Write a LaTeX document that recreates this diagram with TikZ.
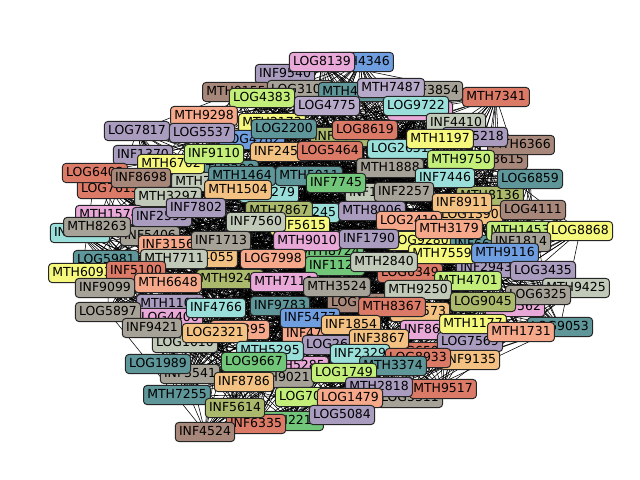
\documentclass[tikz,border=0pt]{standalone}
\usepackage{fontspec}
\usetikzlibrary{backgrounds}
\newfontfamily\lblfont{DejaVu Sans}
\definecolor{cpink}{HTML}{E8A9D8}
\definecolor{cblue}{HTML}{6F9EE0}
\definecolor{cpurp}{HTML}{A99CBF}
\definecolor{clpurp}{HTML}{B7A9C9}
\definecolor{cgray}{HTML}{A6A297}
\definecolor{csalm}{HTML}{DB7B67}
\definecolor{clime}{HTML}{C3EE7A}
\definecolor{ccyan}{HTML}{9ADFD9}
\definecolor{csage}{HTML}{C1C9B8}
\definecolor{cpeach}{HTML}{F6A98A}
\definecolor{cteal}{HTML}{5E9699}
\definecolor{cyell}{HTML}{F6F77D}
\definecolor{cbrown}{HTML}{A6877A}
\definecolor{corange}{HTML}{F3C283}
\definecolor{cgreen}{HTML}{72C67A}
\definecolor{colive}{HTML}{ABB96C}
\tikzset{
  lbl/.style={draw=black!85, line width=0.7pt, rounded corners=2.5pt,
    inner xsep=2.7pt, inner ysep=2.5pt, text height=6.9pt, text depth=1.9pt,
    font=\lblfont\fontsize{9}{10}\selectfont},
  edge/.style={draw=black, line width=0.4pt}
}
\newcount\ndcount
\newcommand\nd[4]{\global\advance\ndcount by 1
  \edef\ndname{n\the\ndcount}%
  \node[lbl,fill=#3] (\ndname) at (#1,#2) {#4};}
\begin{document}
\begin{tikzpicture}[x=0.01in,y=-0.01in]
\useasboundingbox (0,0) rectangle (640,480);
% partly hidden labels
\nd{360}{62}{cblue}{MTH4346}
\nd{285}{74}{cpurp}{INF9540}
\nd{236}{92}{cbrown}{MTH9155}
\nd{300}{90}{cgray}{LOG3108}
\nd{352}{92}{cteal}{MTH4012}
\nd{272}{123}{cyell}{MTH2173}
\nd{420}{111}{cpink}{LOG6240}
\nd{252}{140}{cblue}{LOG4782}
\nd{340}{137}{colive}{INF8032}
\nd{280}{152}{corange}{INF2456}
\nd{400}{149}{ccyan}{LOG2631}
\nd{495}{160}{cbrown}{LOG3615}
\nd{225}{170}{cteal}{MTH2290}
\nd{205}{182}{csage}{MTH7460}
\nd{110}{189}{csalm}{LOG7615}
\nd{269}{193}{ccyan}{INF3279}
\nd{242}{176}{cteal}{MTH1464}
\nd{309}{176}{cteal}{MTH5011}
\nd{375}{193}{csage}{INF1020}
\nd{310}{213}{ccyan}{INF8245}
\nd{490}{196}{colive}{MTH8136}
\nd{470}{215}{corange}{LOG1390}
\nd{150}{236}{cgray}{INF5406}
\nd{80}{233}{ccyan}{INF6034}
\nd{420}{241}{cyell}{LOG9280}
\nd{480}{245}{cteal}{INF6617}
\nd{204}{258}{corange}{MTH4055}
\nd{330}{252}{cgreen}{MTH8724}
\nd{335}{266}{cgreen}{INF1128}
\nd{410}{273}{csalm}{LOG6349}
\nd{230}{279}{colive}{MTH9247}
\nd{486}{268}{cpurp}{INF2943}
\nd{515}{307}{cpink}{INF7562}
\nd{170}{304}{cpurp}{MTH1106}
\nd{170}{318}{cpink}{LOG4406}
\nd{360}{303}{cbrown}{LOG1836}
\nd{420}{312}{corange}{INF6573}
\nd{430}{330}{cpink}{INF8607}
\nd{240}{330}{cpeach}{INF2395}
\nd{312}{334}{cpeach}{INF4703}
\nd{185}{343}{csage}{LOG1010}
\nd{335}{345}{cpurp}{LOG2638}
\nd{295}{366}{cpink}{MTH5285}
\nd{418}{352}{csalm}{LOG6502}
\nd{280}{378}{cgray}{MTH9021}
\nd{190}{374}{cgray}{INF3541}
\nd{410}{398}{cgray}{LOG3311}
\nd{290}{421}{cgreen}{MTH2219}
\nd{308}{397}{clime}{LOG7028}
% visible labels
\nd{322}{62}{cpink}{LOG8139}
\nd{496}{97}{csalm}{MTH7341}
\nd{433}{91}{cgray}{INF3854}
\nd{391}{88}{clpurp}{MTH7487}
\nd{262}{98}{clime}{LOG4383}
\nd{204}{116}{cpeach}{MTH9298}
\nd{327}{106}{clpurp}{LOG4775}
\nd{416}{106}{ccyan}{LOG9722}
\nd{456}{123}{csage}{INF4410}
\nd{137}{131}{cpurp}{LOG7817}
\nd{202}{133}{cpurp}{LOG5537}
\nd{284}{129}{cteal}{LOG2200}
\nd{365}{130}{csalm}{LOG8619}
\nd{330}{151}{csalm}{LOG5464}
\nd{521}{145}{cbrown}{MTH6366}
\nd{475}{137}{cpurp}{LOG5218}
\nd{440}{139}{cyell}{MTH1197}
\nd{143}{155}{cpurp}{INF1370}
\nd{171}{164}{cyell}{MTH6702}
\nd{214}{154}{clime}{INF9110}
\nd{390}{168}{cgray}{MTH1888}
\nd{461}{160}{clime}{MTH9750}
\nd{445}{178}{ccyan}{INF7446}
\nd{530}{179}{cteal}{LOG6859}
\nd{95}{173}{csalm}{LOG6402}
\nd{141}{178}{cbrown}{INF8698}
\nd{238}{190}{corange}{MTH1504}
\nd{336}{183}{cgreen}{INF7745}
\nd{404}{192}{cgray}{INF2257}
\nd{168}{197}{csage}{MTH3297}
\nd{109}{215}{cpink}{MTH1574}
\nd{162}{217}{cpurp}{INF2593}
\nd{196}{208}{cpurp}{INF7802}
\nd{279}{211}{colive}{MTH7867}
\nd{372}{211}{cpurp}{MTH8006}
\nd{462}{203}{corange}{INF8911}
\nd{533}{210}{cbrown}{LOG4111}
\nd{97}{227}{cgray}{MTH8263}
\nd{300}{226}{cyell}{INF5615}
\nd{256}{222}{csage}{INF7560}
\nd{409}{221}{cpeach}{LOG2410}
\nd{449}{229}{cpeach}{MTH3179}
\nd{520}{231}{clime}{MTH1453}
\nd{580}{231}{cyell}{LOG8868}
\nd{521}{242}{cgray}{INF1814}
\nd{168}{245}{cpeach}{INF3156}
\nd{221}{241}{cgray}{INF1713}
\nd{307}{241}{cpink}{MTH9010}
\nd{369}{239}{cpurp}{INF1790}
\nd{442}{254}{cyell}{MTH7559}
\nd{505}{253}{cblue}{MTH9116}
\nd{106}{260}{cteal}{LOG5981}
\nd{174}{259}{csage}{MTH7711}
\nd{273}{259}{cpeach}{LOG7998}
\nd{384}{262}{csage}{MTH2840}
\nd{82}{273}{cyell}{MTH6093}
\nd{136}{271}{csalm}{INF5100}
\nd{168}{283}{cpeach}{MTH6648}
\nd{284}{282}{cpink}{MTH7111}
\nd{337}{287}{cgray}{MTH3524}
\nd{543}{271}{cpurp}{LOG3435}
\nd{468}{281}{clime}{MTH4701}
\nd{418}{290}{csage}{MTH9250}
\nd{576}{288}{csage}{MTH9425}
\nd{538}{295}{cgray}{LOG6325}
\nd{483}{302}{colive}{LOG9045}
\nd{105}{288}{cgray}{INF9099}
\nd{108}{312}{cgray}{LOG5897}
\nd{216}{308}{ccyan}{INF4766}
\nd{280}{306}{cteal}{INF9783}
\nd{392}{307}{csalm}{MTH8367}
\nd{310}{318}{cblue}{INF5477}
\nd{351}{325}{corange}{INF1854}
\nd{152}{328}{cgray}{INF9421}
\nd{215}{333}{corange}{LOG2321}
\nd{379}{339}{corange}{INF3867}
\nd{560}{327}{cteal}{LOG9053}
\nd{470}{342}{cpurp}{LOG7569}
\nd{473}{324}{cyell}{MTH1177}
\nd{521}{332}{cpeach}{MTH1731}
\nd{270}{351}{ccyan}{MTH5295}
\nd{360}{354}{ccyan}{INF2329}
\nd{254}{362}{cgreen}{LOG9667}
\nd{470}{360}{corange}{INF9135}
\nd{418}{358}{csalm}{LOG8933}
\nd{393}{366}{cteal}{MTH3374}
\nd{344}{373}{clime}{LOG1749}
\nd{244}{382}{corange}{INF8786}
\nd{158}{364}{cteal}{LOG1989}
\nd{443}{389}{csalm}{MTH9517}
\nd{379}{387}{cpurp}{MTH2818}
\nd{177}{395}{cteal}{MTH7255}
\nd{350}{398}{cpeach}{LOG1479}
\nd{342}{415}{cpurp}{LOG5084}
\nd{256}{424}{csalm}{INF6335}
\nd{235}{408}{colive}{INF5614}
\nd{205}{432}{cbrown}{INF4524}
% connectors
\edef\NN{\the\ndcount}
\pgfmathsetseed{4711}
\begin{pgfonlayer}{background}
\foreach \i in {1,...,\NN}{
  \foreach \j in {1,...,\NN}{
    \ifnum\j>\i\relax
      \pgfmathrandominteger{\rv}{0}{99}
      \ifnum\rv<15\relax
        \draw[edge] (n\i.center) -- (n\j.center);
      \fi
    \fi
  }
}
\end{pgfonlayer}
\end{tikzpicture}
\end{document}
